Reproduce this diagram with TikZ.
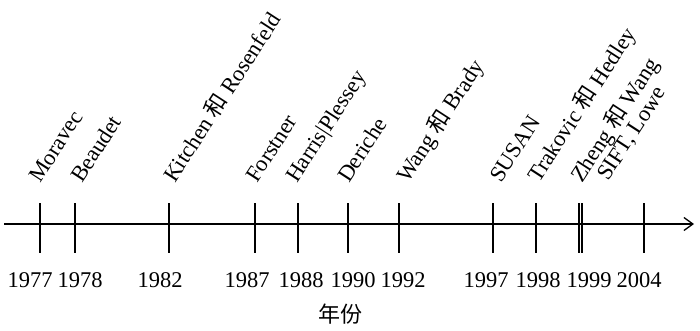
\documentclass[tikz,border=0pt]{standalone}
\usepackage{fontspec}
\setmainfont{Liberation Serif}
\newfontfamily\cjk{Noto Sans CJK SC}
\usetikzlibrary{arrows.meta}
\begin{document}
\begin{tikzpicture}[x=1pt,y=-1pt,
  lab/.style={anchor=base west,inner sep=0pt,rotate=57,font=\fontsize{22.5}{27}\selectfont},
  yr/.style={anchor=base,inner sep=0pt,font=\fontsize{22.5}{27}\selectfont},
  tickline/.style={line width=1.4pt},
  axisline/.style={line width=1.3pt,-{Straight Barb[length=9pt,width=13pt,line width=1.3pt]}}]
\useasboundingbox (0,0) rectangle (700,330);
\coordinate (axL) at (4,224);
\coordinate (axR) at (694,224);
\draw[axisline] (axL) -- (axR);
\foreach \x in {40,75,169,255,298,348,399,493,536,579,582,644}
  \draw[tickline] (\x,203) -- (\x,253);
% year labels
\node[yr] (y1977) at (30,287) {1977};
\node[yr] (y1978) at (80,287) {1978};
\node[yr] (y1982) at (160,287) {1982};
\node[yr] (y1987) at (247,287) {1987};
\node[yr] (y1988) at (301,287) {1988};
\node[yr] (y1990) at (353,287) {1990};
\node[yr] (y1992) at (403,287) {1992};
\node[yr] (y1997) at (486,287) {1997};
\node[yr] (y1998) at (538,287) {1998};
\node[yr] (y1999) at (589,287) {1999};
\node[yr] (y2004) at (639,287) {2004};
% rotated labels
\node[lab] (l1) at (40,184) {Moravec};
\node[lab] (l2) at (82,184) {Beaudet};
\node[lab] (l3) at (175,184) {Kitchen {\cjk 和} Rosenfeld};
\node[lab] (l4) at (257,184) {Forstner};
\node[lab] (l5) at (297,184) {Harris|Plessey};
\node[lab] (l6) at (349,184) {Deriche};
\node[lab] (l7) at (408,184) {Wang {\cjk 和} Brady};
\node[lab] (l8) at (501,184) {SUSAN};
\node[lab] (l9) at (539,184) {Trakovic {\cjk 和} Hedley};
\node[lab] (l10) at (582,184) {Zheng {\cjk 和} Wang};
\node[lab] (l11) at (608,182) {SIFT, Lowe};
\node[font=\cjk\fontsize{22}{26}\selectfont] (xlab) at (340,314) {年份};
\end{tikzpicture}
\end{document}
